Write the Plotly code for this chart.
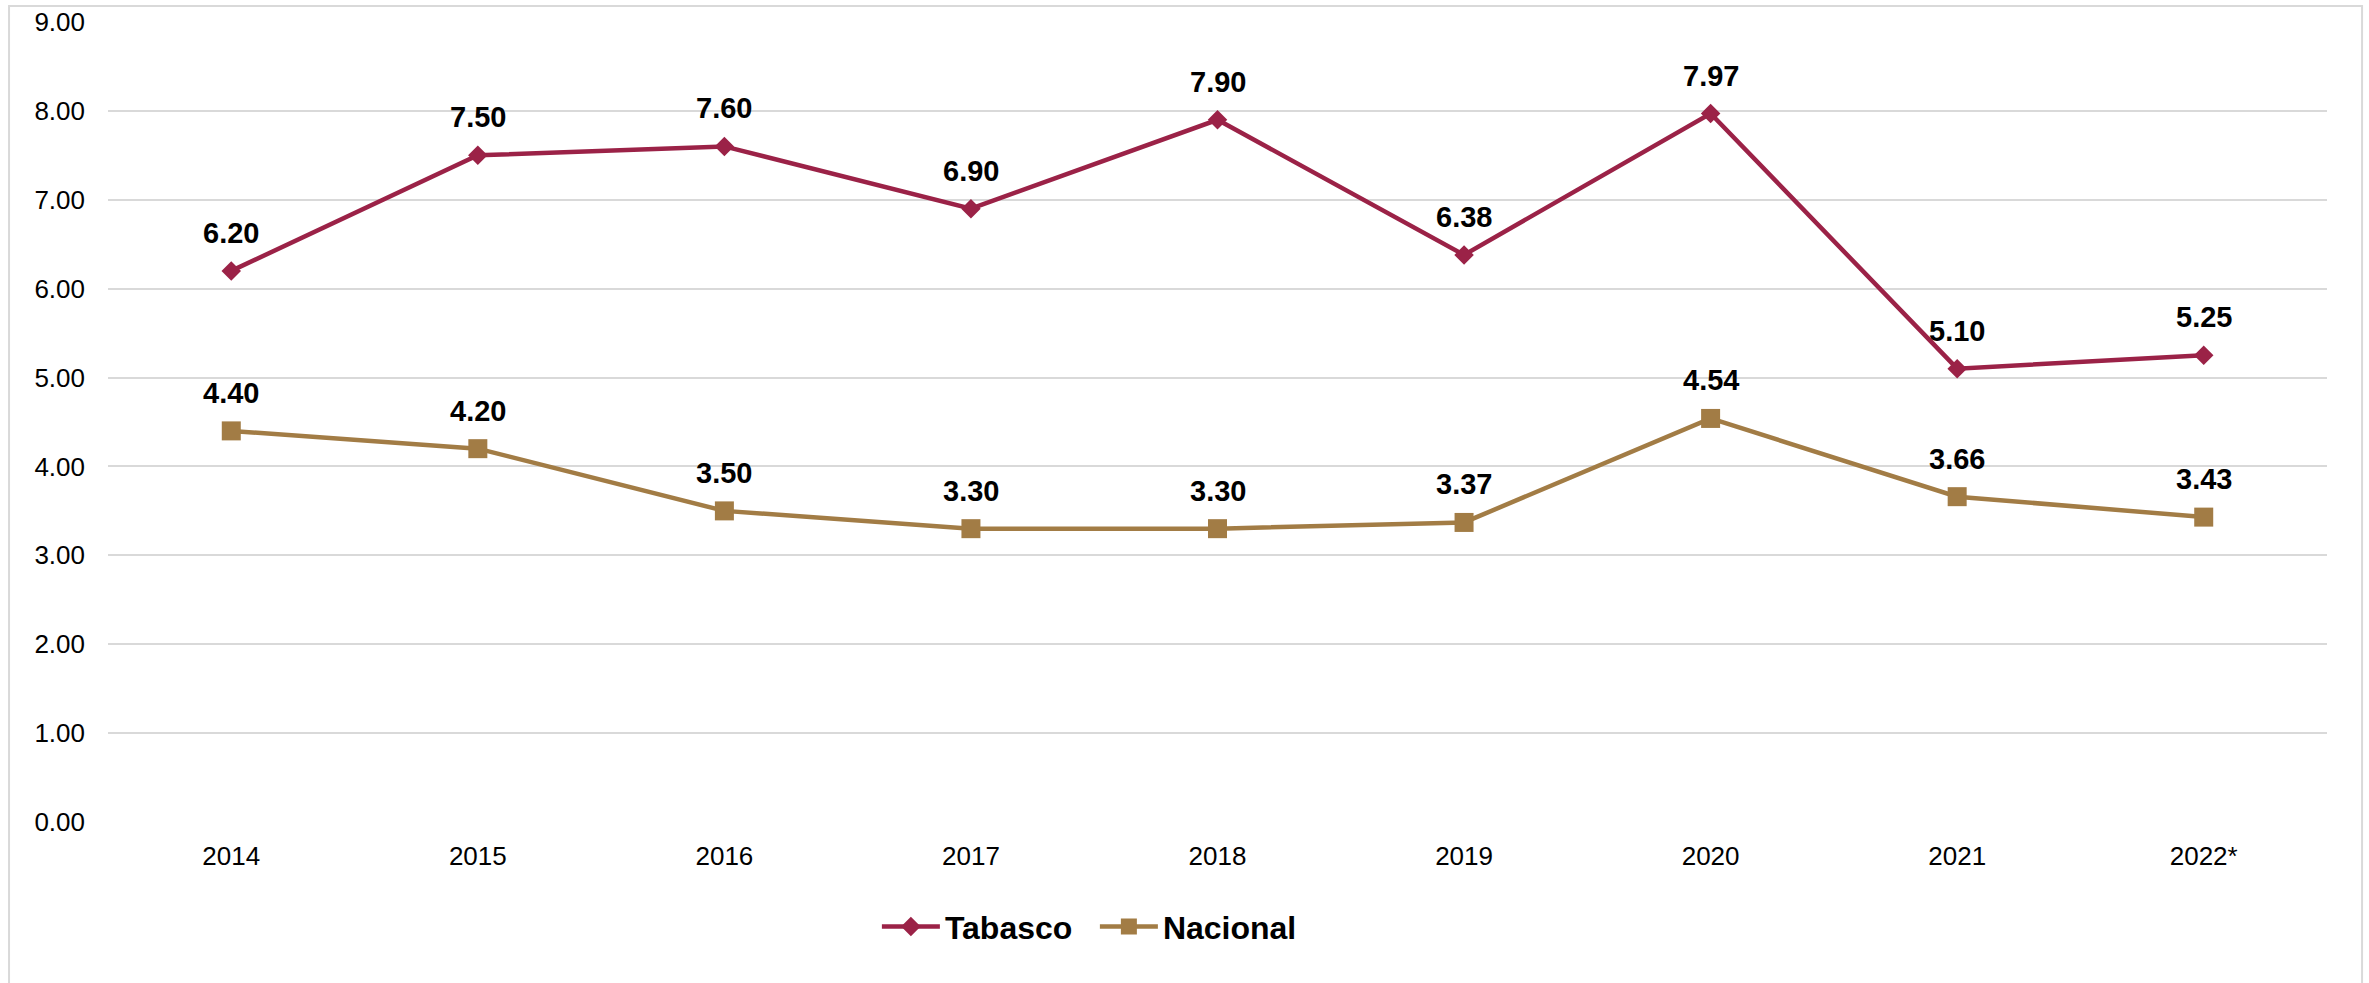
import plotly.graph_objects as go

# ── data ─────────────────────────────────────────────────────────────────────
YEARS    = ["2014", "2015", "2016", "2017", "2018", "2019", "2020", "2021", "2022*"]
TABASCO  = [6.20, 7.50, 7.60, 6.90, 7.90, 6.38, 7.97, 5.10, 5.25]
NACIONAL = [4.40, 4.20, 3.50, 3.30, 3.30, 3.37, 4.54, 3.66, 3.43]

# ── style ────────────────────────────────────────────────────────────────────
_GUINDA = "#9B2247"
_DORADO = "#A27C45"
_GRID   = "#D9D9D9"
_FONT   = "Liberation Sans, Arial, sans-serif"

fig = go.Figure()
fig.add_trace(
    go.Scatter(
        x=YEARS, y=TABASCO,
        name="Tabasco",
        mode="lines+markers",
        line=dict(color=_GUINDA, width=4.5),
        marker=dict(symbol="diamond", size=15, color=_GUINDA),
    )
)
fig.add_trace(
    go.Scatter(
        x=YEARS, y=NACIONAL,
        name="Nacional",
        mode="lines+markers",
        line=dict(color=_DORADO, width=4.5),
        marker=dict(symbol="square", size=19, color=_DORADO),
    )
)

# data labels above each point (x given as category index)
for series in (TABASCO, NACIONAL):
    for i, val in enumerate(series):
        fig.add_annotation(
            x=i, y=val,
            text=f"<b>{val:.2f}</b>",
            showarrow=False,
            yshift=38,
            font=dict(family=_FONT, size=29, color="black"),
        )

# light frame around the whole chart
fig.add_shape(
    type="rect", xref="paper", yref="paper",
    x0=-0.0446, x1=1.0158, y0=-0.23, y1=1.02,
    line=dict(color=_GRID, width=2),
    layer="below",
)

fig.update_layout(
    width=2369, height=983,
    margin=dict(l=108, r=42, t=22, b=161, autoexpand=False),
    paper_bgcolor="white",
    plot_bgcolor="white",
    font=dict(family=_FONT, size=26, color="black"),
    showlegend=True,
    legend=dict(
        orientation="h",
        x=0.3465, xanchor="left",
        y=-0.131, yanchor="middle",
        font=dict(family=_FONT, size=32, color="black", weight="bold"),
        itemwidth=58,
        entrywidth=145,
        entrywidthmode="pixels",
        tracegroupgap=0,
    ),
)
fig.update_xaxes(
    type="category",
    range=[-0.5, len(YEARS) - 0.5],
    showgrid=False,
    showline=False,
    zeroline=False,
    ticks="",
    ticklabelstandoff=16,
    tickfont=dict(size=26),
)
fig.update_yaxes(
    range=[0, 9],
    dtick=1,
    tickformat=".2f",
    showgrid=True,
    gridcolor=_GRID,
    gridwidth=1.5,
    zeroline=False,
    showline=False,
    ticks="",
    ticklabelstandoff=22,
    tickfont=dict(size=26),
)

# drop the default 8px page margin so the figure sits at the window corner
fig.write_html(
    "out.html",
    config={"displayModeBar": False},
    post_script="document.body.style.margin='0';",
)
